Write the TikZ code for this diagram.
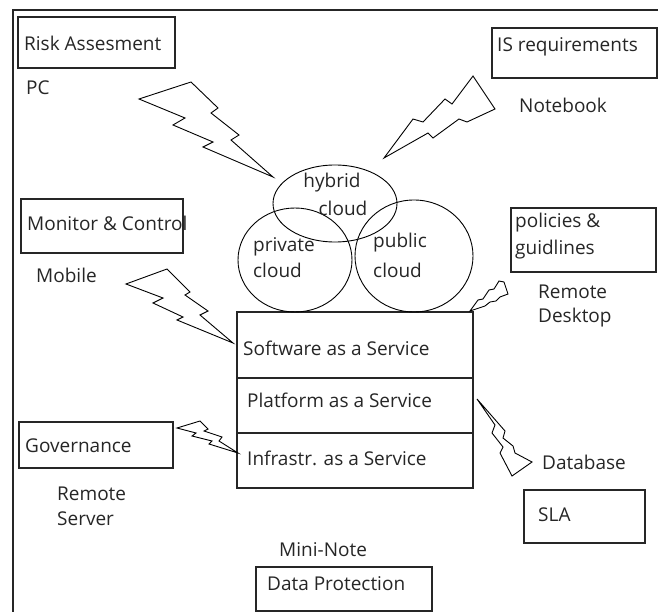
\documentclass[tikz,border=0pt]{standalone}
\usepackage{fontspec}
\setmainfont{Open Sans}
\usetikzlibrary{shapes.geometric}
\begin{document}
\begin{tikzpicture}[x=1pt,y=-1pt,
  lbl/.style={anchor=west, inner sep=0pt, font=\fontsize{19}{22}\selectfont, text=black!85},
  clbl/.style={anchor=center, inner sep=0pt, font=\fontsize{19}{22}\selectfont, text=black!85},
  box/.style={draw=black!85, line width=1.3pt},
  bolt/.style={draw=black, line width=0.9pt, line join=miter},
  cloudshape/.style={draw=black, line width=0.9pt, inner sep=0pt}]
\useasboundingbox (0,0) rectangle (658,612);
% outer frame
\draw[line width=1.3pt, black!85] (13,615) -- (13,10) -- (661,10);

% boxes
\draw[box] (18,17) rectangle (175,68);
\node[lbl] (risk) at (24,43) {Risk Assesment};
\node[lbl] (pc) at (26,88) {PC};

\draw[box] (492,28) rectangle (657,78);
\node[lbl] (isreq) at (497,47) {IS requirements};
\node[lbl] (notebook) at (519,105) {Notebook};

\draw[box] (21,199) rectangle (183,253);
\node[lbl] (monitor) at (27,223) {Monitor \& Control};
\node[lbl] (mobile) at (36,275) {Mobile};

\draw[box] (511,208) rectangle (656,272);
\node[lbl] (pol1) at (515,223) {policies \&};
\node[lbl] (pol2) at (515,250) {guidlines};
\node[lbl] (rd1) at (538,292) {Remote};
\node[lbl] (rd2) at (538,318) {Desktop};

\draw[box] (19,422) rectangle (173,468);
\node[lbl] (gov) at (25,446) {Governance};
\node[lbl] (rs1) at (57,494) {Remote};
\node[lbl] (rs2) at (57,519) {Server};

\node[lbl] (db) at (542,462) {Database};
\draw[box] (524,490) rectangle (645,543);
\node[lbl] (sla) at (538,515) {SLA};

\node[lbl] (mini) at (279,550) {Mini-Note};
\draw[box] (256,567) rectangle (432,611);
\node[lbl] (dp) at (267,584) {Data Protection};

% service stack
\draw[box] (237,312) rectangle (473,488);
\draw[line width=2.4pt, black!85] (237,378) -- (473,378);
\draw[line width=1.3pt, black!85] (237,433) -- (473,433);
\node[lbl] (saas) at (243,348) {Software as a Service};
\node[lbl] (paas) at (247,400) {Platform as a Service};
\node[lbl] (iaas) at (247,458) {Infrastr. as a Service};

% clouds
\node[cloudshape, ellipse, minimum width=124pt, minimum height=77pt] (hybrid) at (335,203.5) {};
\node[cloudshape, ellipse, minimum width=114pt, minimum height=104pt] (private) at (295,260) {};
\node[cloudshape, ellipse, minimum width=118pt, minimum height=112pt] (public) at (414,256) {};
\node[clbl] (h1) at (332,183) {hybrid};
\node[clbl] (h2) at (343,208) {cloud};
\node[lbl] (p1) at (253,247) {private};
\node[lbl] (p2) at (253,270) {cloud};
\node[lbl] (q1) at (373,243) {public};
\node[lbl] (q2) at (373,270) {cloud};

% lightning bolts
\draw[bolt] (139,99) -- (191,82) -- (218,108) -- (211,113) -- (239,135) -- (231,140) -- (273,177) -- (203,147) -- (213,142) -- (173,125) -- (185,118) -- cycle;
\draw[bolt] (384,158) -- (413,119) -- (423,122) -- (445,99) -- (452,104) -- (473,76) -- (495,109) -- (467,122) -- (459,119) -- (433,138) -- (428,133) -- cycle;
\draw[bolt] (126,284) -- (167,269) -- (190,292) -- (185,295) -- (208,311) -- (200,315) -- (233,343) -- (177,320) -- (183,317) -- (153,303) -- (163,298) -- cycle;
\draw[bolt] (470,311) -- (478,300) -- (483,299) -- (489,290) -- (494,289) -- (499,281) -- (504,282) -- (508,294) -- (500,297) -- (496,301) -- (490,302) -- (485,306) -- cycle;
\draw[bolt] (477,399) -- (495,425) -- (492,433) -- (503,447) -- (500,453) -- (512,476) -- (532,462) -- (515,453) -- (513,446) -- (503,438) -- (505,431) -- cycle;
\draw[bolt] (177,428) -- (200,421) -- (208,429) -- (204,431) -- (222,437) -- (219,441) -- (238,453) -- (209,444) -- (212,441) -- (192,436) -- (196,433) -- cycle;
\end{tikzpicture}
\end{document}
